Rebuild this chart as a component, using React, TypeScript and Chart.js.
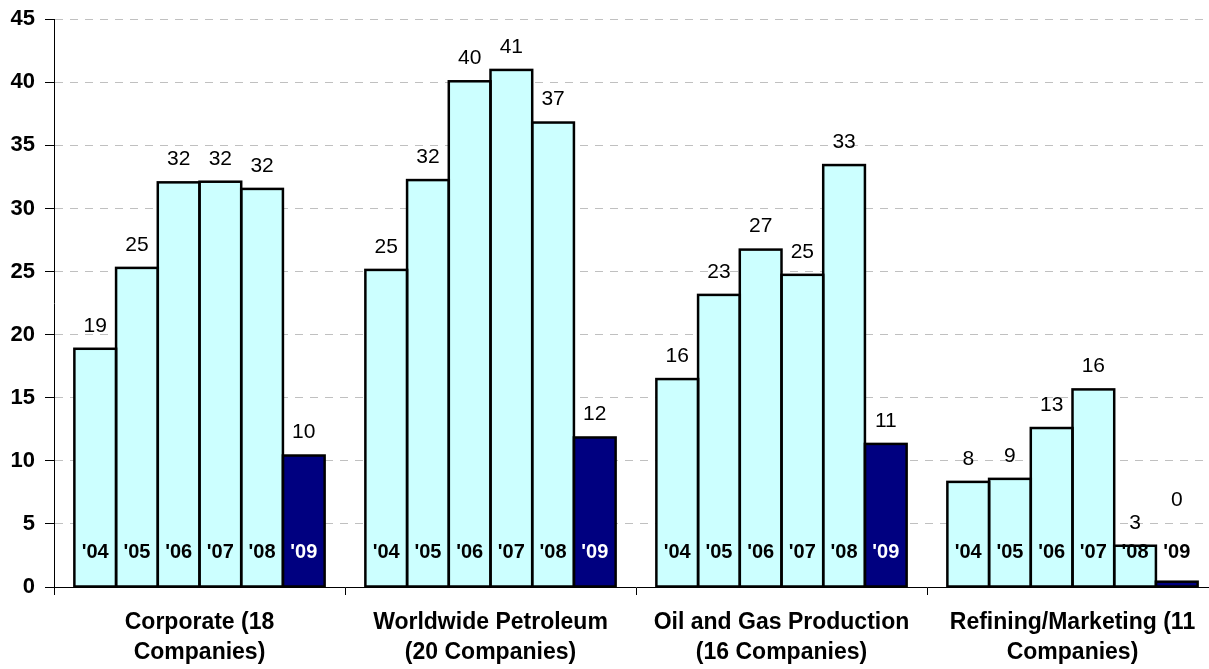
import React, { useEffect, useRef } from "react";
import { Chart, registerables } from "chart.js";

Chart.register(...registerables);

const categories: string[][] = [
  ["Corporate (18", "Companies)"],
  ["Worldwide Petroleum", "(20 Companies)"],
  ["Oil and Gas Production", "(16 Companies)"],
  ["Refining/Marketing (11", "Companies)"],
];

const years = ["'04", "'05", "'06", "'07", "'08", "'09"];

const corporate = [18.88, 25.29, 32.07, 32.12, 31.55, 10.42];
const worldwidePetroleum = [25.13, 32.25, 40.08, 40.98, 36.81, 11.85];
const oilGasProduction = [16.48, 23.15, 26.74, 24.74, 33.44, 11.34];
const refiningMarketing = [8.33, 8.57, 12.6, 15.66, 3.27, 0.42];

const yTicks = [0, 5, 10, 15, 20, 25, 30, 35, 40, 45];

const groups = [corporate, worldwidePetroleum, oilGasProduction, refiningMarketing];

const FONT = "Arial, 'Liberation Sans', sans-serif";
const LIGHT = "#CCFFFF";
const NAVY = "#000080";

const decorPlugin = {
  id: "barDecor",
  afterDatasetsDraw(chart: any) {
    const ctx = chart.ctx as CanvasRenderingContext2D;
    ctx.save();
    chart.data.datasets.forEach((ds: any, di: number) => {
      const meta = chart.getDatasetMeta(di);
      meta.data.forEach((el: any, i: number) => {
        const p = el.getProps(["x", "y", "base", "width"], true);
        const left = p.x - p.width / 2;
        // border centered on edges
        ctx.lineWidth = 2.5;
        ctx.strokeStyle = "#000";
        ctx.strokeRect(left, p.y, p.width, p.base - p.y);

        // year label
        const yearY = p.base - 34;
        const fits = p.y < yearY - 4;
        ctx.font = `bold 20px ${FONT}`;
        ctx.textAlign = "center";
        ctx.textBaseline = "middle";
        ctx.fillStyle = di === years.length - 1 && fits ? "#fff" : "#000";
        ctx.fillText(years[di], p.x, yearY);

        // value label
        const v = ds.data[i] as number;
        let labelY = p.y - 23;
        if (!fits) labelY = Math.min(labelY, yearY - 52);
        ctx.font = `normal 21px ${FONT}`;
        ctx.fillStyle = "#000";
        ctx.fillText(String(Math.round(v)), p.x, labelY);
      });
    });
    ctx.restore();
  },
};

export default function App() {
  const ref = useRef<HTMLCanvasElement | null>(null);

  useEffect(() => {
    if (!ref.current) return;
    const datasets = years.map((yr, yi) => ({
      label: yr,
      data: groups.map((g) => g[yi]),
      backgroundColor: yi === years.length - 1 ? NAVY : LIGHT,
      borderWidth: 0,
      categoryPercentage: 0.86,
      barPercentage: 1.0,
    }));

    const chart = new Chart(ref.current, {
      type: "bar",
      data: { labels: categories as any, datasets },
      plugins: [decorPlugin],
      options: {
        responsive: false,
        animation: false,
        layout: { padding: { top: 14, right: 2, left: 0, bottom: 0 } },
        plugins: {
          legend: { display: false },
          tooltip: { enabled: false },
        },
        scales: {
          x: {
            type: "category",
            offset: true,
            afterFit: (s: any) => {
              s.height = 82;
            },
            grid: {
              display: true,
              drawOnChartArea: false,
              drawTicks: true,
              tickLength: 8,
              color: "#000",
              tickColor: "#000",
              offset: true,
            },
            border: { display: true, color: "#000", width: 1 },
            ticks: {
              autoSkip: false,
              maxRotation: 0,
              minRotation: 0,
              padding: 13,
              color: "#000",
              font: { family: FONT, size: 23, weight: "bold", lineHeight: 30 / 23 },
            },
          },
          y: {
            min: 0,
            max: 45,
            afterFit: (s: any) => {
              s.width = 54;
            },
            afterBuildTicks: (s: any) => {
              s.ticks = yTicks.map((v) => ({ value: v }));
            },
            grid: {
              display: true,
              drawOnChartArea: true,
              drawTicks: true,
              tickLength: 9,
              color: "#c0c0c0",
              tickColor: "#000",
              tickBorderDash: [],
              lineWidth: 1,
            },
            border: { display: true, color: "#000", width: 1, dash: [8, 7] },
            ticks: {
              padding: 10,
              color: "#000",
              font: { family: FONT, size: 22, weight: "bold" },
            },
          },
        },
      } as any,
    });
    return () => chart.destroy();
  }, []);

  return (
    <div
      style={{
        position: "fixed",
        left: 0,
        top: 0,
        width: 1209,
        height: 669,
        overflow: "hidden",
        background: "#fff",
      }}
    >
      <canvas
        ref={ref}
        width={1220}
        height={673}
        style={{ width: 1220, height: 673, display: "block", position: "absolute", left: 0, top: -4 }}
      />
    </div>
  );
}
